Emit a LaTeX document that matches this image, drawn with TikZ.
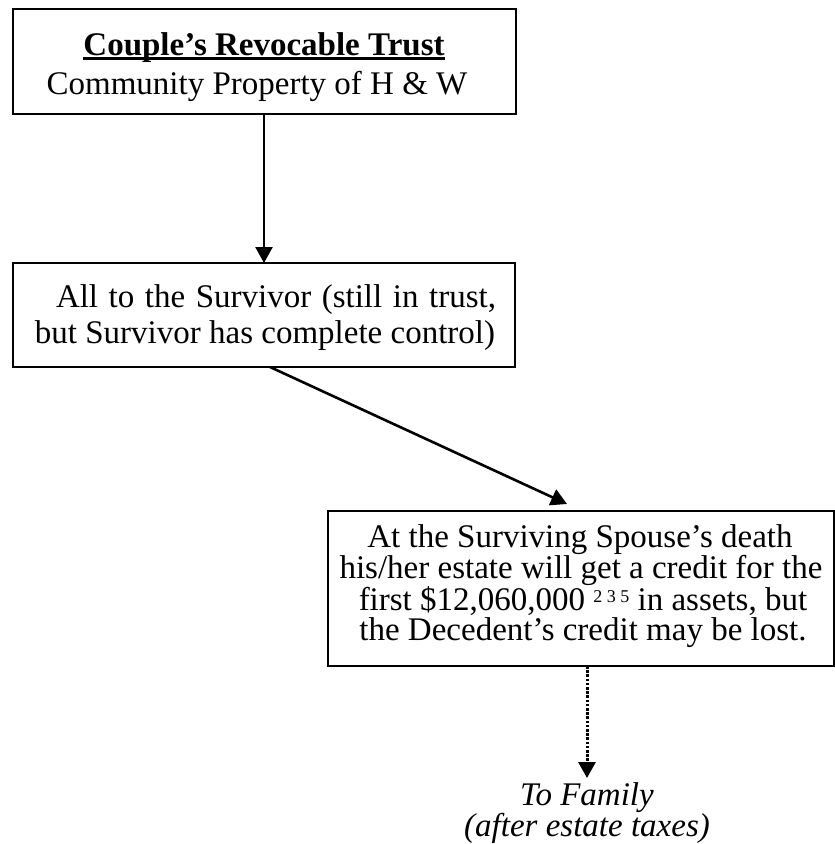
\documentclass[tikz,border=0pt]{standalone}
\usepackage{fontspec}
\setmainfont{Liberation Serif}
\usetikzlibrary{arrows.meta,calc}
\newcommand\myuline[1]{\setbox0\hbox{#1}\rlap{\rule[-5pt]{\wd0}{3pt}}\box0}
\begin{document}
\begin{tikzpicture}[x=1pt,y=-1pt,
  box/.style={draw, line width=2pt, inner sep=0pt, outer sep=0pt},
  txt/.style={inner sep=0pt, anchor=base, font=\fontsize{33}{36}\selectfont},
  arr/.style={line width=2.6pt, -{Triangle[length=16pt,width=17pt]}},
  dotarr/.style={line width=3pt, dash pattern=on 2.6pt off 1.6pt, -{Triangle[length=16pt,width=17pt]}}]
\useasboundingbox (0,0) rectangle (835,844);
% boxes
\node[box, minimum width=503pt, minimum height=105pt] (b1) at (264.5,61.5) {};
\node[box, minimum width=502pt, minimum height=104pt] (b2) at (264,315) {};
\node[box, minimum width=506pt, minimum height=155pt] (b3) at (581,588.5) {};
% texts
\node[txt] (t1a) at (264,55) {\bfseries\myuline{Couple’s Revocable Trust}};
\node[txt] (t1b) at (257,94) {Community Property of H \& W};
\node[txt] (t2a) at (276,307) {\makebox[440pt][s]{All to the Survivor (still in trust,}};
\node[txt] (t2b) at (265,343) {but Survivor has complete control)};
\node[txt] (t3a) at (580,547) {At the Surviving Spouse’s death};
\node[txt] (t3b) at (581,578) {his/her estate will get a credit for the};
\node[txt] (t3c) at (583,610) {first \$12,060,000 \raisebox{8pt}{\fontsize{18}{18}\selectfont 2 3 5} in assets, but};
\node[txt] (t3d) at (583,640) {the Decedent’s credit may be lost.};
\node[txt, font=\fontsize{33}{36}\selectfont\itshape] (f1) at (587,805) {To Family};
\node[txt, font=\fontsize{33}{36}\selectfont\itshape] (f2) at (587,836) {(after estate taxes)};
% connectors
\coordinate (tip2) at (567,504);
\coordinate (tip3) at (587,778);
\draw[arr] (b2.north |- b1.south) -- (b2.north);
\draw[arr] ($(b2.south)+(6,0)$) -- (tip2);
\draw[dotarr] (b3.south -| tip3) -- (tip3);
\end{tikzpicture}
\end{document}
